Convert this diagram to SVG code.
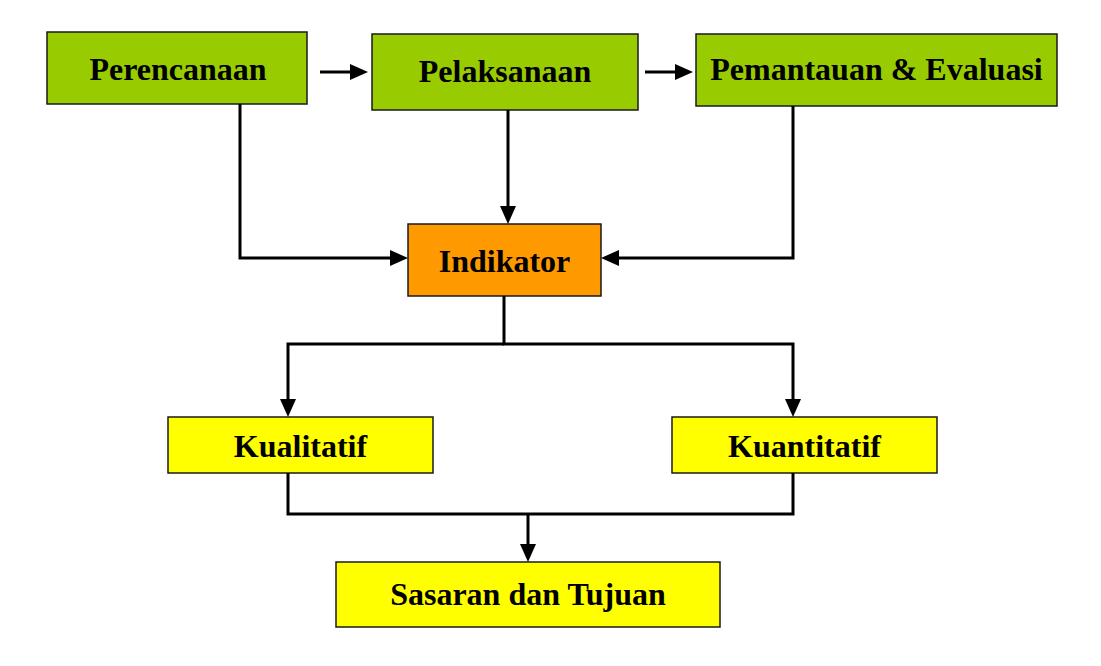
<svg xmlns="http://www.w3.org/2000/svg" width="1101" height="666" viewBox="0 0 1101 666">
<style>
.box{stroke:#1a1a1a;stroke-width:1.5}
.g{fill:#99CC00}
.o{fill:#FF9900}
.y{fill:#FFFF00}
.t{font-family:"Liberation Serif","Times New Roman",serif;font-weight:bold;font-size:32px;fill:#000;text-anchor:middle}
.c{fill:none;stroke:#000;stroke-width:3;stroke-linejoin:miter}
</style>
<defs>
<marker id="ah" markerUnits="userSpaceOnUse" markerWidth="20" markerHeight="18" refX="13" refY="8" orient="auto">
<path d="M0,0 L18,8 L0,16 z" fill="#000"/>
</marker>
</defs>
<rect width="1101" height="666" fill="#fff"/>
<g id="perencanaan"><rect class="box g" x="47" y="32" width="260" height="72"/><text class="t" x="178" y="80">Perencanaan</text></g>
<g id="pelaksanaan"><rect class="box g" x="372" y="34" width="266" height="76"/><text class="t" x="505" y="82">Pelaksanaan</text></g>
<g id="pemantauan"><rect class="box g" x="696" y="34" width="361" height="72"/><text class="t" x="876.5" y="80">Pemantauan &amp; Evaluasi</text></g>
<g id="indikator"><rect class="box o" x="408" y="224" width="193" height="72"/><text class="t" x="504.5" y="272">Indikator</text></g>
<g id="kualitatif"><rect class="box y" x="168" y="417" width="265" height="56"/><text class="t" x="300.5" y="457">Kualitatif</text></g>
<g id="kuantitatif"><rect class="box y" x="672" y="417" width="265" height="56"/><text class="t" x="804.5" y="457">Kuantitatif</text></g>
<g id="sasaran"><rect class="box y" x="336" y="562" width="384" height="65"/><text class="t" x="528" y="605">Sasaran dan Tujuan</text></g>
<g id="connectors">
<path class="c" d="M320,72 L363,72" marker-end="url(#ah)"/>
<path class="c" d="M645,72 L688,72" marker-end="url(#ah)"/>
<path class="c" d="M508,110 L508,219" marker-end="url(#ah)"/>
<path class="c" d="M240,104 L240,258 L403,258" marker-end="url(#ah)"/>
<path class="c" d="M793,106 L793,258 L606,258" marker-end="url(#ah)"/>
<path class="c" d="M504,296 L504,344 L793,344 L793,412" marker-end="url(#ah)"/>
<path class="c" d="M504,344 L288,344 L288,412" marker-end="url(#ah)"/>
<path class="c" d="M288,473 L288,514 L793,514 L793,473"/>
<path class="c" d="M528,514 L528,557" marker-end="url(#ah)"/>
</g>
</svg>
